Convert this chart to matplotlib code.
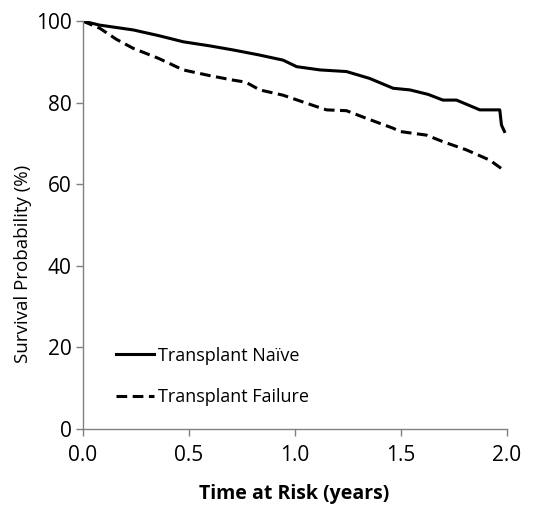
import matplotlib.pyplot as plt

# Kaplan-Meier style curves (time in years, survival %)
naive_t = [0.0, 0.08, 0.24, 0.36, 0.475, 0.60, 0.71, 0.83, 0.946, 1.01, 1.12, 1.245,
           1.355, 1.465, 1.544, 1.63, 1.70, 1.764, 1.874, 1.968, 1.976, 1.99]
naive_s = [100.0, 99.0, 97.8, 96.4, 94.9, 93.9, 92.9, 91.7, 90.4, 88.8, 88.0, 87.6,
           85.9, 83.5, 83.1, 82.0, 80.6, 80.6, 78.2, 78.2, 74.5, 72.9]

fail_t = [0.0, 0.082, 0.16, 0.239, 0.36, 0.475, 0.60, 0.71, 0.77, 0.836, 0.946, 1.104,
          1.151, 1.245, 1.34, 1.465, 1.497, 1.623, 1.70, 1.81, 1.92, 1.984]
fail_s = [100.0, 98.2, 95.5, 93.3, 90.8, 88.0, 86.6, 85.5, 85.0, 83.1, 81.8, 79.0,
          78.2, 78.0, 76.1, 73.7, 72.9, 72.0, 70.4, 68.4, 65.9, 63.5]

series_labels = ['Transplant Naïve', 'Transplant Failure']
x_ticks = [0.0, 0.5, 1.0, 1.5, 2.0]
y_ticks = [0, 20, 40, 60, 80, 100]

plt.rcParams['font.family'] = ['Open Sans', 'DejaVu Sans']

fig = plt.figure(figsize=(5.5, 5.07), dpi=100)
ax = fig.add_axes([0.150, 0.1544, 0.771, 0.8042])

ax.plot(naive_t, naive_s, color='black', linewidth=2.2, label=series_labels[0])
ax.plot(fail_t, fail_s, color='black', linewidth=2.2, linestyle=(0, (3.5, 1.8)),
        label=series_labels[1])

ax.set_xlim(0, 2.0)
ax.set_ylim(0, 100)
ax.set_xticks(x_ticks)
ax.set_xticklabels([f'{v:.1f}' for v in x_ticks])
ax.set_yticks(y_ticks)

for side in ['top', 'right']:
    ax.spines[side].set_visible(False)
for side in ['left', 'bottom']:
    ax.spines[side].set_color('#808080')
    ax.spines[side].set_linewidth(1.0)
ax.tick_params(axis='both', colors='#808080', labelcolor='black', length=5,
               width=1.0, labelsize=15)
ax.tick_params(axis='x', pad=7)
ax.tick_params(axis='y', pad=3)

ax.set_ylabel('Survival Probability (%)', fontsize=13.5)
ax.yaxis.set_label_coords(-0.118, 0.405)
ax.set_xlabel('Time at Risk (years)', fontsize=14, fontweight='bold')
ax.xaxis.set_label_coords(0.5, -0.135)

ax.legend(loc='center left', bbox_to_anchor=(0.062, 0.128), frameon=False,
          fontsize=13, handlelength=2.1, handletextpad=0.2, labelspacing=1.3,
          borderaxespad=0)

plt.savefig('out.png', dpi=100)
